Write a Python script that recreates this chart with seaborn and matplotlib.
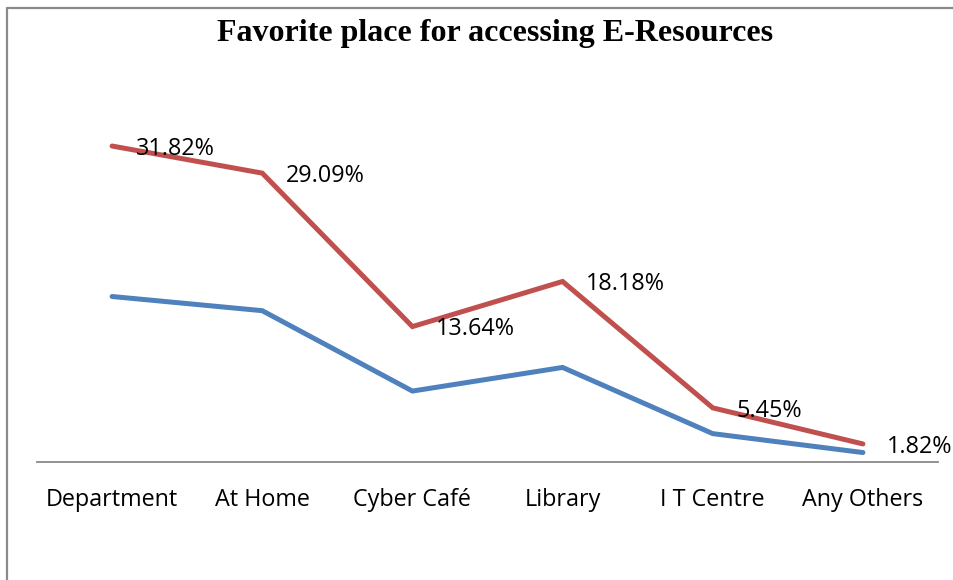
import matplotlib
matplotlib.use("Agg")
import matplotlib.pyplot as plt
import seaborn as sns
import pandas as pd
from matplotlib.lines import Line2D

categories = ["Department", "At Home", "Cyber Café", "Library", "I T Centre", "Any Others"]
counts = [35, 32, 15, 20, 6, 2]
percentages = [31.82, 29.09, 13.64, 18.18, 5.45, 1.82]
pct_labels = ["31.82%", "29.09%", "13.64%", "18.18%", "5.45%", "1.82%"]
title = "Favorite place for accessing E-Resources"

stacked = [c + p for c, p in zip(counts, percentages)]
x = list(range(len(categories)))
df = pd.DataFrame({"x": x * 2,
                   "y": counts + stacked,
                   "series": ["Count"] * len(x) + ["Percentage"] * len(x)})

sns.set_theme(style="white")
plt.rcParams["font.family"] = ["Open Sans", "DejaVu Sans"]
plt.rcParams["text.color"] = "black"

W, H = 954, 580
fig = plt.figure(figsize=(W / 100, H / 100), dpi=100)
ax = fig.add_axes([37 / W, (H - 462) / H, (938 - 37) / W, (462 - 131) / H])

sns.lineplot(data=df, x="x", y="y", hue="series",
             palette={"Count": "#4F81BD", "Percentage": "#C0504D"},
             linewidth=3.6, legend=False, ax=ax)
for ln in ax.lines:
    ln.set_solid_capstyle("round")
    ln.set_solid_joinstyle("miter")

for xi, yi, lab in zip(x, stacked, pct_labels):
    ax.annotate(lab, (xi, yi), xytext=(17, -2), textcoords="offset points",
                ha="left", va="center", fontsize=16.8, color="black",
                annotation_clip=False)

ax.set_xlim(-0.5, 5.5)
ax.set_ylim(0, 70)
ax.set_xticks(x)
ax.set_xticklabels(categories, fontsize=16.8)
ax.set_yticks([])
ax.set_xlabel("")
ax.set_ylabel("")
ax.tick_params(axis="x", length=0, pad=19, colors="black")
for s in ["top", "right", "left"]:
    ax.spines[s].set_visible(False)
ax.spines["bottom"].set_color("#898989")
ax.spines["bottom"].set_linewidth(1.3)

fig.text(495.5 / W, 1 - 33 / H, title, ha="center", va="center", color="black",
         fontsize=23, fontweight="bold", family=["Liberation Serif", "DejaVu Serif"])

# chart border (left and top edges)
fig.add_artist(Line2D([7.5 / W, 7.5 / W], [0, 1 - 8 / H], transform=fig.transFigure,
                      color="#8a8a8a", linewidth=1.6))
fig.add_artist(Line2D([7.5 / W, 1], [1 - 8 / H, 1 - 8 / H], transform=fig.transFigure,
                      color="#8a8a8a", linewidth=1.6))

fig.savefig("out.png", dpi=100)
